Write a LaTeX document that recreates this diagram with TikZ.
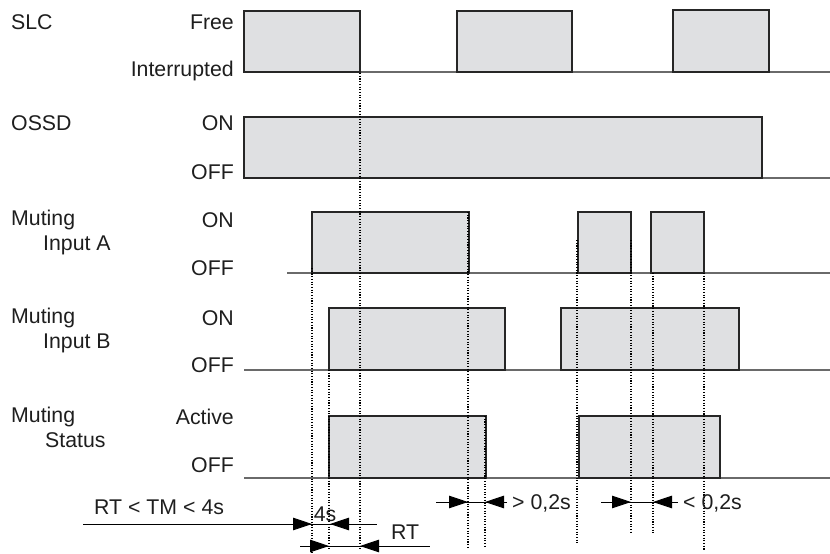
\documentclass[tikz,border=0pt]{standalone}
\usepackage{fontspec}
\setmainfont{Liberation Sans}
\usetikzlibrary{arrows.meta}
\definecolor{pulsefill}{HTML}{DFE0E2}
\definecolor{edge}{HTML}{262626}
\definecolor{base}{HTML}{6A6A6A}
\definecolor{txt}{HTML}{1E1E1E}
\begin{document}
\begin{tikzpicture}[x=1pt,y=-1pt,
  lbl/.style={font=\fontsize{21.3}{23}\selectfont, text=txt, inner sep=0pt},
  sig/.style={lbl, anchor=west},
  lev/.style={lbl, anchor=east},
  pulse/.style={fill=pulsefill, draw=edge, line width=1.3pt},
  baseline/.style={draw=base, line width=1.3pt},
  vguide/.style={draw=black, line width=1.1pt, dash pattern=on 1.1pt off 1.6pt},
  dimline/.style={draw=black, line width=0.9pt},
  tipR/.style={-{Triangle[length=19pt,width=12.5pt]}, line width=0.9pt},
]
\useasboundingbox (0,0) rectangle (830,554);

% ---------- labels ----------
\node[sig] (slc) at (11,22) {SLC};
\node[lev] (slcfree) at (234,22) {Free};
\node[lev] (slcint) at (234,71) {Interrupted};

\node[sig] (ossd) at (11,123) {OSSD};
\node[lev] (ossdon) at (234,123) {ON};
\node[lev] (ossdoff) at (234,172) {OFF};

\node[sig] (ma1) at (11,220) {Muting};
\node[sig] (ma2) at (43,245) {Input A};
\node[lev] (maon) at (234,220) {ON};
\node[lev] (maoff) at (234,268) {OFF};

\node[sig] (mb1) at (11,318) {Muting};
\node[sig] (mb2) at (43,343) {Input B};
\node[lev] (mbon) at (234,318) {ON};
\node[lev] (mboff) at (234,365) {OFF};

\node[sig] (ms1) at (11,417) {Muting};
\node[sig] (ms2) at (45,440) {Status};
\node[lev] (mson) at (234,417) {Active};
\node[lev] (msoff) at (234,465) {OFF};

% ---------- SLC ----------
\draw[baseline] (244,72) -- (830,72);
\draw[pulse] (244,72) rectangle (360,11);
\draw[pulse] (457,72) rectangle (572,11);
\draw[pulse] (673,72) rectangle (769,10);

% ---------- OSSD ----------
\draw[baseline] (244,178) -- (830,178);
\draw[pulse] (244,178) rectangle (762,117);

% ---------- Muting input A ----------
\draw[baseline] (287,273) -- (830,273);
\draw[pulse] (312,273) rectangle (469,212);
\draw[pulse] (578,273) rectangle (631,212);
\draw[pulse] (651,273) rectangle (704,212);

% ---------- Muting input B ----------
\draw[baseline] (244,370) -- (830,370);
\draw[pulse] (329,370) rectangle (505,308);
\draw[pulse] (561,370) rectangle (739,308);

% ---------- Muting status ----------
\draw[baseline] (244,478) -- (830,478);
\draw[pulse] (329,478) rectangle (486,416);
\draw[pulse] (579,478) rectangle (720,416);

% ---------- dotted guides ----------
\draw[vguide] (360,73) -- (360,550);
\draw[vguide] (312,268) -- (312,552);
\draw[vguide] (329,370) -- (329,550);
\draw[vguide] (468,212) -- (468,548);
\draw[vguide] (485,416) -- (485,548);
\draw[vguide] (577,240) -- (577,543);
\draw[vguide] (631,240) -- (631,532);
\draw[vguide] (653,273) -- (653,533);
\draw[vguide] (704,273) -- (704,550);

% ---------- timing dimensions ----------
\coordinate (d1a) at (83,524);
\coordinate (d1b) at (377,524);
\draw[dimline] (d1a) -- (d1b);
\draw[tipR] (290,524) -- (312,524);
\draw[tipR] (352,524) -- (330,524);
\node[lbl, anchor=west] (tmtxt) at (94,507) {RT < TM < 4s};
\node[lbl] (fours) at (325,514) {4s};

\coordinate (d2a) at (300,546);
\coordinate (d2b) at (430,546);
\draw[dimline] (d2a) -- (d2b);
\draw[tipR] (307,546) -- (329,546);
\draw[tipR] (382,546) -- (360,546);
\node[lbl, anchor=west] (rttxt) at (391,532) {RT};

\coordinate (d3a) at (436,502);
\coordinate (d3b) at (507,502);
\draw[dimline] (d3a) -- (d3b);
\draw[tipR] (446,502) -- (468,502);
\draw[tipR] (507,502) -- (485,502);
\node[lbl, anchor=west] (gttxt) at (512,503) {> 0,2s};

\coordinate (d4a) at (601,502);
\coordinate (d4b) at (678,502);
\draw[dimline] (d4a) -- (d4b);
\draw[tipR] (609,502) -- (631,502);
\draw[tipR] (675,502) -- (653,502);
\node[lbl, anchor=west] (lttxt) at (683,503) {< 0,2s};
\end{tikzpicture}
\end{document}
